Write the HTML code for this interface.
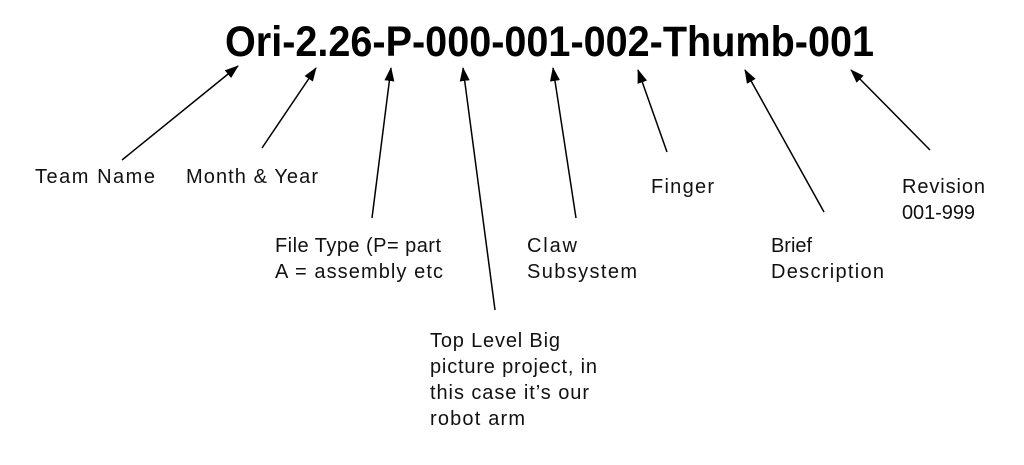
<!DOCTYPE html>
<html><head><meta charset="utf-8"><style>
html,body{margin:0;padding:0;background:#fff;}
svg{display:block;}
text{font-family:"Liberation Sans",sans-serif;fill:#111;}
</style></head><body>
<svg width="1024" height="465" viewBox="0 0 1024 465" xmlns="http://www.w3.org/2000/svg">
<defs>
<marker id="a" markerWidth="14" markerHeight="10" refX="13" refY="5" orient="auto" markerUnits="userSpaceOnUse">
<path d="M0,0 L14,5 L0,10 z" fill="#000"/>
</marker>
</defs>
<text x="225" y="56" font-size="43" font-weight="bold" textLength="649" lengthAdjust="spacingAndGlyphs" style="fill:#000">Ori-2.26-P-000-001-002-Thumb-001</text>
<g stroke="#000" stroke-width="1.5" marker-end="url(#a)">
<line x1="122" y1="160" x2="238" y2="66"/>
<line x1="262" y1="148" x2="316" y2="68"/>
<line x1="372" y1="218" x2="391" y2="68"/>
<line x1="495" y1="310" x2="463" y2="68"/>
<line x1="576" y1="218" x2="553" y2="68"/>
<line x1="667" y1="152" x2="638" y2="70"/>
<line x1="824" y1="212" x2="745" y2="70"/>
<line x1="930" y1="150" x2="851" y2="70"/>
</g>
<g font-size="20" lengthAdjust="spacingAndGlyphs">
<text x="35" y="183" textLength="120">Team Name</text>
<text x="186" y="183" textLength="132">Month &amp; Year</text>
<text x="275" y="252" textLength="166">File Type (P= part</text>
<text x="275" y="278" textLength="168">A = assembly etc</text>
<text x="527" y="252" textLength="50">Claw</text>
<text x="527" y="278" textLength="110">Subsystem</text>
<text x="651" y="193" textLength="63">Finger</text>
<text x="771" y="252" textLength="41">Brief</text>
<text x="771" y="278" textLength="113">Description</text>
<text x="902" y="193" textLength="83">Revision</text>
<text x="902" y="219" textLength="73">001-999</text>
<text x="430" y="347" textLength="130">Top Level Big</text>
<text x="430" y="373" textLength="167">picture project, in</text>
<text x="430" y="399" textLength="159">this case it’s our</text>
<text x="430" y="425" textLength="95">robot arm</text>
</g>
</svg>
</body></html>
